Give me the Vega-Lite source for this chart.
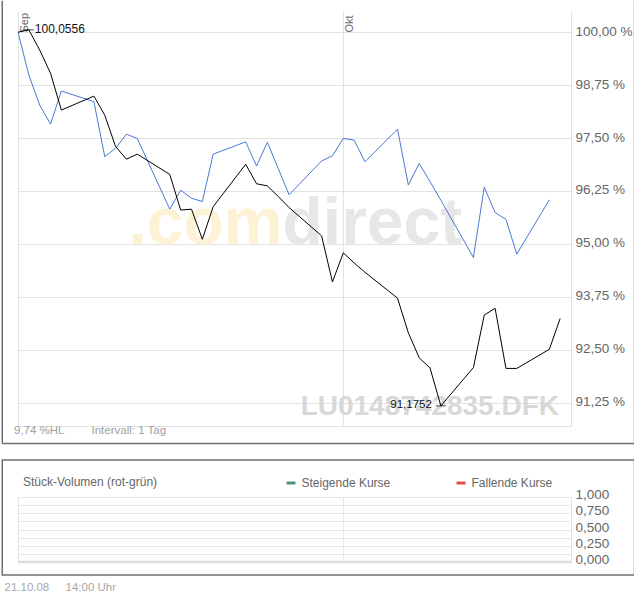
{
  "$schema": "https://vega.github.io/schema/vega-lite/v6.json",
  "padding": 0,
  "autosize": {"type": "pad"},
  "bounds": "flush",
  "spacing": 71,
  "config": {
    "font": "Liberation Sans",
    "view": {"stroke": "#e2e2e2"},
    "text": {"font": "Liberation Sans"}
  },
  "datasets": {
    "prices": [
      {"date": "2008-09-01", "series": "index", "value": 100.0},
      {"date": "2008-09-02", "series": "index", "value": 98.99},
      {"date": "2008-09-03", "series": "index", "value": 98.28},
      {"date": "2008-09-04", "series": "index", "value": 97.83},
      {"date": "2008-09-05", "series": "index", "value": 98.61},
      {"date": "2008-09-08", "series": "index", "value": 98.36},
      {"date": "2008-09-09", "series": "index", "value": 97.06},
      {"date": "2008-09-10", "series": "index", "value": 97.26},
      {"date": "2008-09-11", "series": "index", "value": 97.59},
      {"date": "2008-09-12", "series": "index", "value": 97.49},
      {"date": "2008-09-15", "series": "index", "value": 95.82},
      {"date": "2008-09-16", "series": "index", "value": 96.27},
      {"date": "2008-09-17", "series": "index", "value": 96.08},
      {"date": "2008-09-18", "series": "index", "value": 96.0},
      {"date": "2008-09-19", "series": "index", "value": 97.12},
      {"date": "2008-09-22", "series": "index", "value": 97.41},
      {"date": "2008-09-23", "series": "index", "value": 96.84},
      {"date": "2008-09-24", "series": "index", "value": 97.4},
      {"date": "2008-09-25", "series": "index", "value": 96.78},
      {"date": "2008-09-26", "series": "index", "value": 96.16},
      {"date": "2008-09-29", "series": "index", "value": 96.96},
      {"date": "2008-09-30", "series": "index", "value": 97.08},
      {"date": "2008-10-01", "series": "index", "value": 97.49},
      {"date": "2008-10-02", "series": "index", "value": 97.45},
      {"date": "2008-10-03", "series": "index", "value": 96.94},
      {"date": "2008-10-06", "series": "index", "value": 97.71},
      {"date": "2008-10-07", "series": "index", "value": 96.39},
      {"date": "2008-10-08", "series": "index", "value": 96.9},
      {"date": "2008-10-09", "series": "index", "value": 96.47},
      {"date": "2008-10-10", "series": "index", "value": 96.03},
      {"date": "2008-10-13", "series": "index", "value": 94.68},
      {"date": "2008-10-14", "series": "index", "value": 96.34},
      {"date": "2008-10-15", "series": "index", "value": 95.74},
      {"date": "2008-10-16", "series": "index", "value": 95.58},
      {"date": "2008-10-17", "series": "index", "value": 94.76},
      {"date": "2008-10-20", "series": "index", "value": 96.04},
      {"date": "2008-09-01", "series": "fund", "value": 100.0},
      {"date": "2008-09-02", "series": "fund", "value": 100.0556},
      {"date": "2008-09-03", "series": "fund", "value": 99.58},
      {"date": "2008-09-04", "series": "fund", "value": 99.03},
      {"date": "2008-09-05", "series": "fund", "value": 98.16},
      {"date": "2008-09-08", "series": "fund", "value": 98.49},
      {"date": "2008-09-09", "series": "fund", "value": 98.04},
      {"date": "2008-09-10", "series": "fund", "value": 97.3},
      {"date": "2008-09-11", "series": "fund", "value": 97.0},
      {"date": "2008-09-12", "series": "fund", "value": 97.12},
      {"date": "2008-09-15", "series": "fund", "value": 96.64},
      {"date": "2008-09-16", "series": "fund", "value": 95.8},
      {"date": "2008-09-17", "series": "fund", "value": 95.82},
      {"date": "2008-09-18", "series": "fund", "value": 95.11},
      {"date": "2008-09-19", "series": "fund", "value": 95.88},
      {"date": "2008-09-22", "series": "fund", "value": 96.88},
      {"date": "2008-09-23", "series": "fund", "value": 96.42},
      {"date": "2008-09-24", "series": "fund", "value": 96.37},
      {"date": "2008-09-25", "series": "fund", "value": 96.12},
      {"date": "2008-09-26", "series": "fund", "value": 95.86},
      {"date": "2008-09-29", "series": "fund", "value": 95.19},
      {"date": "2008-09-30", "series": "fund", "value": 94.1},
      {"date": "2008-10-01", "series": "fund", "value": 94.79},
      {"date": "2008-10-02", "series": "fund", "value": 94.55},
      {"date": "2008-10-03", "series": "fund", "value": 94.33},
      {"date": "2008-10-06", "series": "fund", "value": 93.72},
      {"date": "2008-10-07", "series": "fund", "value": 92.9},
      {"date": "2008-10-08", "series": "fund", "value": 92.31},
      {"date": "2008-10-09", "series": "fund", "value": 92.07},
      {"date": "2008-10-10", "series": "fund", "value": 91.1752},
      {"date": "2008-10-13", "series": "fund", "value": 92.08},
      {"date": "2008-10-14", "series": "fund", "value": 93.32},
      {"date": "2008-10-15", "series": "fund", "value": 93.48},
      {"date": "2008-10-16", "series": "fund", "value": 92.06},
      {"date": "2008-10-17", "series": "fund", "value": 92.06},
      {"date": "2008-10-20", "series": "fund", "value": 92.51},
      {"date": "2008-10-21", "series": "fund", "value": 93.24}
    ],
    "extremes": [
      {"date": "2008-09-02", "value": 100.0556, "label": "100,0556", "kind": "max"},
      {"date": "2008-10-10", "value": 91.1752, "label": "91,1752", "kind": "min"}
    ],
    "one": [{}]
  },
  "vconcat": [
    {
      "width": 553,
      "height": 415,
      "view": {"stroke": null},
      "layer": [
        {
          "data": {"name": "one"},
          "mark": {"type": "text", "text": ".com", "fontWeight": "bold", "fontSize": 66, "color": "#fdf1d6", "align": "right", "baseline": "alphabetic", "clip": false},
          "encoding": {
            "x": {"datum": {"year": 2008, "month": 9, "date": 25, "hours": 9, "minutes": 27, "utc": true}, "type": "temporal",
                  "scale": {"type": "utc", "domain": [{"year": 2008, "month": 9, "date": 1, "utc": true}, {"year": 2008, "month": 10, "date": 22, "utc": true}]},
                  "axis": {"orient": "top", "values": [{"year": 2008, "month": 9, "date": 1, "utc": true}, {"year": 2008, "month": 10, "date": 1, "utc": true}, {"year": 2008, "month": 10, "date": 22, "utc": true}],
                           "tickCount": 20,
                           "grid": true, "gridColor": "#e2e2e2", "domain": false, "ticks": false, "tickSize": 0,
                           "labelAngle": 270, "labelAlign": "left", "labelBaseline": "top", "labelPadding": 1, "offset": -22,
                           "labelFlush": false, "labelOverlap": false, "labelBound": false, "labelFontSize": 11, "labelColor": "#666666",
                           "labelExpr": "utcdate(datum.value) != 1 ? '' : (utcmonth(datum.value) == 8 ? 'Sep' : 'Okt')", "title": null}},
            "y": {"datum": 95.0, "type": "quantitative",
                  "scale": {"domain": [90.7, 100.5], "nice": false, "zero": false},
                  "axis": {"orient": "right", "values": [90.7, 91.25, 92.5, 93.75, 95, 96.25, 97.5, 98.75, 100],
                           "tickCount": 20,
                           "grid": true, "gridColor": "#e2e2e2", "domain": false, "ticks": false, "tickSize": 0,
                           "labelPadding": 4, "labelFontSize": 13.5, "labelColor": "#666666", "labelOffset": -1, "labelOverlap": false,
                           "labelExpr": "datum.value < 91 ? '' : replace(format(datum.value, '.2f'), '.', ',') + ' %'", "title": null}}
          }
        },
        {
          "data": {"name": "one"},
          "mark": {"type": "text", "text": "direct", "fontWeight": "bold", "fontSize": 66, "color": "#e7e7e7", "align": "left", "baseline": "alphabetic", "clip": false},
          "encoding": {
            "x": {"datum": {"year": 2008, "month": 9, "date": 25, "hours": 9, "minutes": 27, "utc": true}, "type": "temporal"},
            "y": {"datum": 95.0, "type": "quantitative"}
          }
        },
        {
          "data": {"name": "one"},
          "mark": {"type": "text", "text": "LU0148742835.DFK", "fontWeight": "bold", "fontSize": 28, "color": "#d8d8d8", "align": "right", "baseline": "alphabetic", "clip": false},
          "encoding": {
            "x": {"datum": {"year": 2008, "month": 10, "date": 20, "hours": 21, "minutes": 27, "utc": true}, "type": "temporal"},
            "y": {"datum": 90.96, "type": "quantitative"}
          }
        },
        {
          "data": {"name": "prices"},
          "mark": {"type": "line", "strokeWidth": 1, "clip": false},
          "encoding": {
            "x": {"field": "date", "type": "temporal"},
            "y": {"field": "value", "type": "quantitative"},
            "color": {"field": "series", "type": "nominal", "scale": {"domain": ["index", "fund"], "range": ["#4a78d6", "#000000"]}, "legend": null},
            "order": {"field": "date", "type": "temporal"}
          }
        },
        {
          "data": {"name": "extremes"},
          "mark": {"type": "tick", "orient": "horizontal", "size": 10, "thickness": 1, "color": "#000000"},
          "encoding": {
            "x": {"field": "date", "type": "temporal"},
            "y": {"field": "value", "type": "quantitative"}
          }
        },
        {
          "data": {"name": "extremes"},
          "transform": [{"filter": "datum.kind == 'max'"}],
          "mark": {"type": "text", "align": "left", "baseline": "middle", "dx": 6, "dy": -1, "fontSize": 12, "color": "#111111"},
          "encoding": {
            "x": {"field": "date", "type": "temporal"},
            "y": {"field": "value", "type": "quantitative"},
            "text": {"field": "label"}
          }
        },
        {
          "data": {"name": "extremes"},
          "transform": [{"filter": "datum.kind == 'min'"}],
          "mark": {"type": "text", "align": "right", "baseline": "middle", "dx": -9, "dy": -1, "fontSize": 11.5, "color": "#111111"},
          "encoding": {
            "x": {"field": "date", "type": "temporal"},
            "y": {"field": "value", "type": "quantitative"},
            "text": {"field": "label"}
          }
        },
        {
          "data": {"name": "one"},
          "mark": {"type": "text", "text": "9,74 %HL", "fontSize": 11.5, "color": "#a0a0a0", "align": "left", "baseline": "middle", "clip": false},
          "encoding": {
            "x": {"datum": {"year": 2008, "month": 8, "date": 31, "hours": 15, "minutes": 9, "utc": true}, "type": "temporal"},
            "y": {"datum": 90.582, "type": "quantitative"}
          }
        },
        {
          "data": {"name": "one"},
          "mark": {"type": "text", "text": "Intervall: 1 Tag", "fontSize": 11.5, "color": "#a0a0a0", "align": "left", "baseline": "middle", "clip": false},
          "encoding": {
            "x": {"datum": {"year": 2008, "month": 9, "date": 7, "hours": 18, "minutes": 40, "utc": true}, "type": "temporal"},
            "y": {"datum": 90.582, "type": "quantitative"}
          }
        },
        {
          "data": {"name": "one"},
          "mark": {"type": "rule", "color": "#707070", "strokeWidth": 1.5, "clip": false},
          "encoding": {
            "x": {"datum": {"year": 2008, "month": 8, "date": 30, "hours": 13, "minutes": 8, "utc": true}, "type": "temporal"},
            "y": {"datum": 100.742, "type": "quantitative"},
            "y2": {"datum": 90.287}
          }
        },
        {
          "data": {"name": "one"},
          "mark": {"type": "rule", "color": "#707070", "strokeWidth": 1.5, "clip": false},
          "encoding": {
            "x": {"datum": {"year": 2008, "month": 10, "date": 27, "hours": 20, "minutes": 34, "utc": true}, "type": "temporal"},
            "y": {"datum": 100.742, "type": "quantitative"},
            "y2": {"datum": 90.287}
          }
        },
        {
          "data": {"name": "one"},
          "mark": {"type": "rule", "color": "#707070", "strokeWidth": 1.5, "clip": false},
          "encoding": {
            "x": {"datum": {"year": 2008, "month": 8, "date": 30, "hours": 13, "minutes": 8, "utc": true}, "type": "temporal"},
            "x2": {"datum": {"year": 2008, "month": 10, "date": 27, "hours": 20, "minutes": 34, "utc": true}},
            "y": {"datum": 90.287, "type": "quantitative"}
          }
        }
      ]
    },
    {
      "width": 553,
      "height": 65,
      "layer": [
        {
          "data": {"name": "one"},
          "mark": {"type": "rect", "filled": false, "stroke": "#707070", "strokeWidth": 1.5, "clip": false},
          "encoding": {
            "x": {"datum": {"year": 2008, "month": 8, "date": 30, "hours": 13, "minutes": 8, "utc": true}, "type": "temporal",
                  "scale": {"type": "utc", "domain": [{"year": 2008, "month": 9, "date": 1, "utc": true}, {"year": 2008, "month": 10, "date": 22, "utc": true}]},
                  "axis": {"orient": "bottom", "values": [{"year": 2008, "month": 9, "date": 1, "utc": true}, {"year": 2008, "month": 10, "date": 1, "utc": true}],
                           "tickCount": 20,
                           "grid": true, "gridColor": "#e6e6e6", "labels": false, "domain": false, "ticks": false, "tickSize": 0, "title": null}},
            "x2": {"datum": {"year": 2008, "month": 10, "date": 27, "hours": 20, "minutes": 34, "utc": true}},
            "y": {"datum": 1.569, "type": "quantitative",
                  "scale": {"domain": [0, 1], "nice": false, "zero": false},
                  "axis": {"orient": "right", "values": [0, 0.125, 0.25, 0.375, 0.5, 0.625, 0.75, 0.875, 1],
                           "tickCount": 20,
                           "grid": true, "gridColor": "#e6e6e6", "gridWidth": 1,
                           "domain": false, "ticks": false, "tickSize": 0, "labelOverlap": false,
                           "labelPadding": 4, "labelFontSize": 13.5, "labelColor": "#666666", "labelOffset": -2.5,
                           "labelExpr": "(datum.value * 4) % 1 == 0 ? replace(format(datum.value, '.3f'), '.', ',') : ''", "title": null}},
            "y2": {"datum": -0.2}
          }
        },
        {
          "data": {"name": "one"},
          "mark": {"type": "rule", "color": "#dcdcdc", "strokeWidth": 2.5},
          "encoding": {
            "x": {"datum": {"year": 2008, "month": 9, "date": 1, "utc": true}, "type": "temporal"},
            "x2": {"datum": {"year": 2008, "month": 10, "date": 22, "utc": true}},
            "y": {"datum": 0, "type": "quantitative"}
          }
        },
        {
          "data": {"name": "one"},
          "mark": {"type": "text", "text": "Stück-Volumen (rot-grün)", "fontSize": 12, "color": "#666666", "align": "left", "baseline": "middle", "clip": false},
          "encoding": {
            "x": {"datum": {"year": 2008, "month": 9, "date": 1, "hours": 11, "minutes": 4, "utc": true}, "type": "temporal"},
            "y": {"datum": 1.231, "type": "quantitative"}
          }
        },
        {
          "data": {"name": "one"},
          "mark": {"type": "tick", "orient": "horizontal", "size": 9, "thickness": 3, "color": "#006a3a", "clip": false},
          "encoding": {
            "x": {"datum": {"year": 2008, "month": 9, "date": 26, "hours": 4, "minutes": 15, "utc": true}, "type": "temporal"},
            "y": {"datum": 1.215, "type": "quantitative"}
          }
        },
        {
          "data": {"name": "one"},
          "mark": {"type": "text", "text": "Steigende Kurse", "fontSize": 12, "color": "#666666", "align": "left", "baseline": "middle", "clip": false},
          "encoding": {
            "x": {"datum": {"year": 2008, "month": 9, "date": 27, "hours": 3, "minutes": 30, "utc": true}, "type": "temporal"},
            "y": {"datum": 1.223, "type": "quantitative"}
          }
        },
        {
          "data": {"name": "one"},
          "mark": {"type": "tick", "orient": "horizontal", "size": 9, "thickness": 3, "color": "#d40000", "clip": false},
          "encoding": {
            "x": {"datum": {"year": 2008, "month": 10, "date": 11, "hours": 20, "minutes": 33, "utc": true}, "type": "temporal"},
            "y": {"datum": 1.215, "type": "quantitative"}
          }
        },
        {
          "data": {"name": "one"},
          "mark": {"type": "text", "text": "Fallende Kurse", "fontSize": 12, "color": "#666666", "align": "left", "baseline": "middle", "clip": false},
          "encoding": {
            "x": {"datum": {"year": 2008, "month": 10, "date": 12, "hours": 19, "minutes": 47, "utc": true}, "type": "temporal"},
            "y": {"datum": 1.223, "type": "quantitative"}
          }
        },
        {
          "data": {"name": "one"},
          "mark": {"type": "text", "text": "21.10.08", "fontSize": 11.5, "color": "#a8a8a8", "align": "left", "baseline": "middle", "clip": false},
          "encoding": {
            "x": {"datum": {"year": 2008, "month": 8, "date": 30, "hours": 18, "minutes": 7, "utc": true}, "type": "temporal"},
            "y": {"datum": -0.4, "type": "quantitative"}
          }
        },
        {
          "data": {"name": "one"},
          "mark": {"type": "text", "text": "14:00 Uhr", "fontSize": 11.5, "color": "#a8a8a8", "align": "left", "baseline": "middle", "clip": false},
          "encoding": {
            "x": {"datum": {"year": 2008, "month": 9, "date": 5, "hours": 9, "minutes": 9, "utc": true}, "type": "temporal"},
            "y": {"datum": -0.4, "type": "quantitative"}
          }
        }
      ]
    }
  ]
}
